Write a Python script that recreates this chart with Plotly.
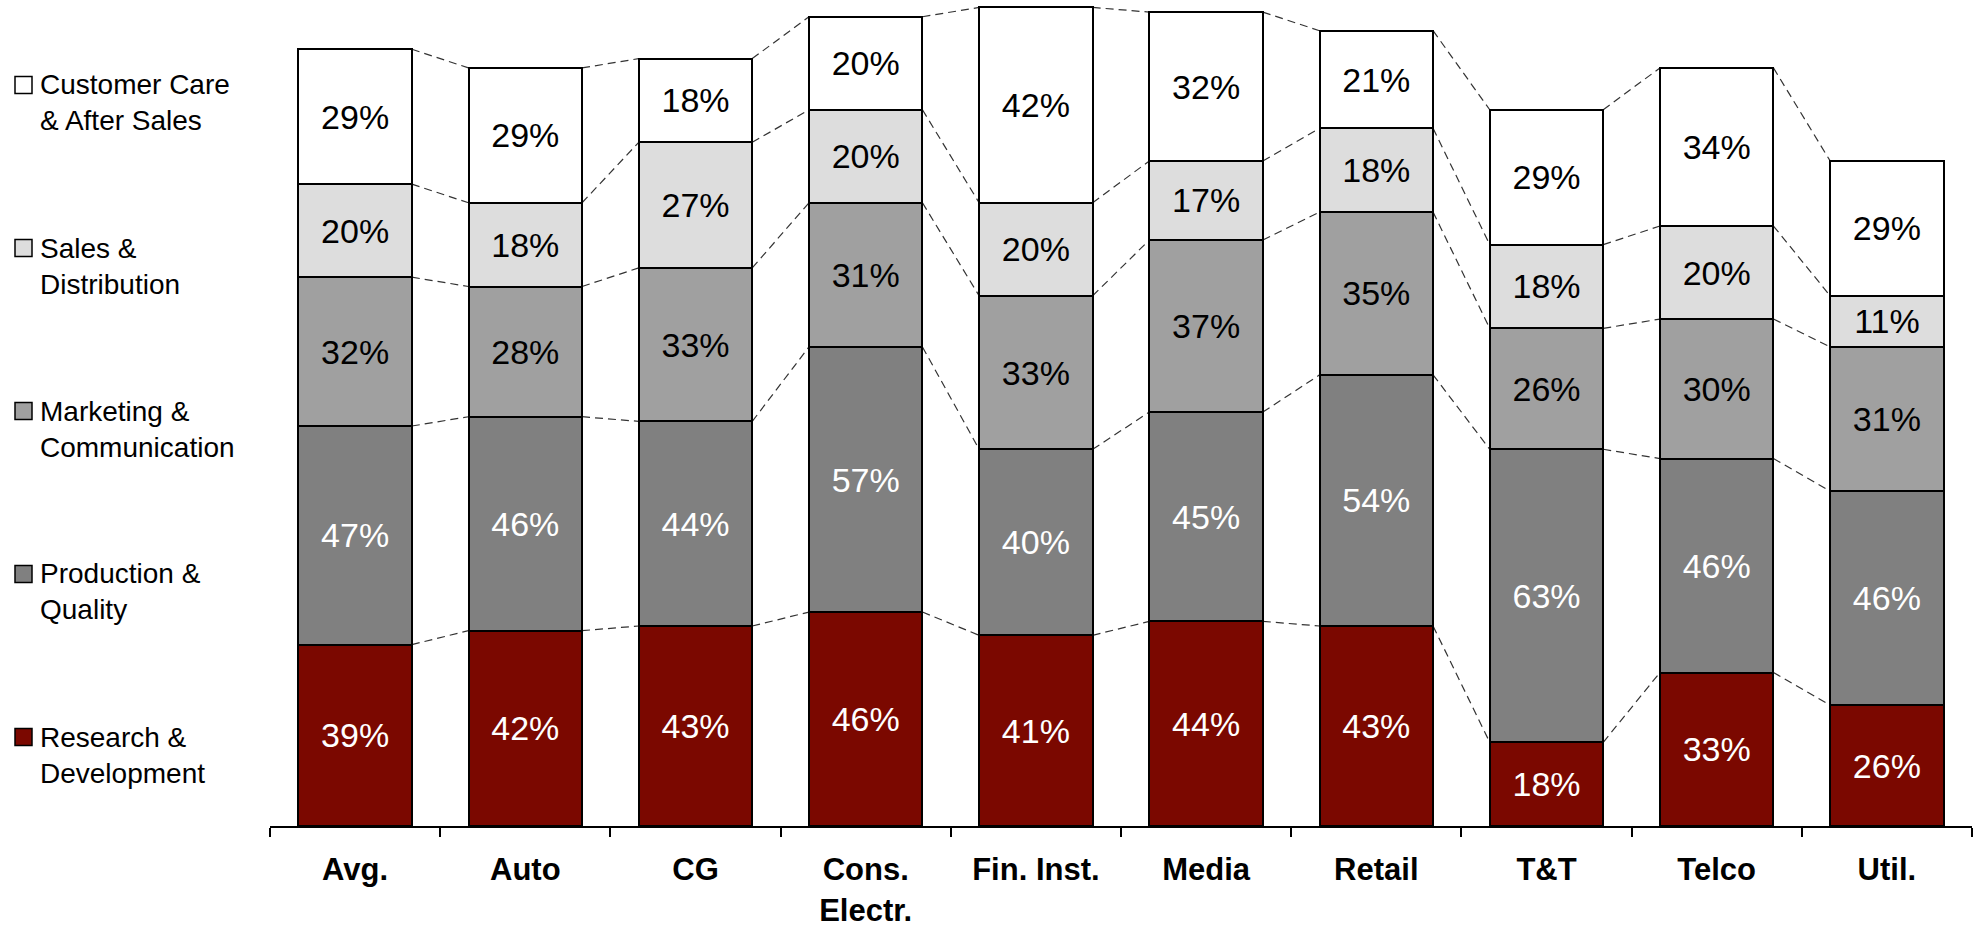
import plotly.graph_objects as go

# Categories and segment shares (%) per category, bottom to top
categories = ["Avg.", "Auto", "CG", "Cons.<br>Electr.", "Fin. Inst.",
              "Media", "Retail", "T&T", "Telco", "Util."]
research_dev = [39, 42, 43, 46, 41, 44, 43, 18, 33, 26]
production_quality = [47, 46, 44, 57, 40, 45, 54, 63, 46, 46]
marketing_comm = [32, 28, 33, 31, 33, 37, 35, 26, 30, 31]
sales_distribution = [20, 18, 27, 20, 20, 17, 18, 18, 20, 11]
customer_care = [29, 29, 18, 20, 42, 32, 21, 29, 34, 29]

series_names = ["Research &<br>Development", "Production &<br>Quality",
                "Marketing &<br>Communication", "Sales &<br>Distribution",
                "Customer Care<br>& After Sales"]
series_values = [research_dev, production_quality, marketing_comm,
                 sales_distribution, customer_care]
fill_colors = ["#7B0800", "#808080", "#A0A0A0", "#DDDDDD", "#FFFFFF"]
text_colors = ["white", "white", "black", "black", "black"]

W, H = 1978, 928
ML, MR, MT, MB = 270, 6, 0, 102
PLOT_W = W - ML - MR
PLOT_H = H - MT - MB
Y_MAX = 177.6
BAR_W = 0.667
FONT = "Liberation Sans, Arial, sans-serif"

fig = go.Figure()
for name, vals, fc, tc in zip(series_names, series_values, fill_colors, text_colors):
    fig.add_trace(go.Bar(
        x=categories, y=vals, name=name, showlegend=False,
        marker=dict(color=fc, line=dict(color="black", width=2)),
        text=[f"{v}%" for v in vals], textposition="inside",
        insidetextanchor="middle", textangle=0,
        textfont=dict(family=FONT, size=34, color=tc),
        cliponaxis=False, hoverinfo="skip",
    ))

# Dashed connectors between neighbouring bars at every segment boundary
shapes = []
cum = [[0] * len(categories)]
for vals in series_values:
    cum.append([c + v for c, v in zip(cum[-1], vals)])
for level in cum[1:]:
    for i in range(len(categories) - 1):
        shapes.append(dict(
            type="line", xref="x", yref="y",
            x0=i + BAR_W / 2, y0=level[i],
            x1=i + 1 - BAR_W / 2, y1=level[i + 1],
            line=dict(color="#333333", width=1.2, dash="8px,5px"), layer="below",
        ))


def px_x(px):
    return (px - ML) / PLOT_W


def px_y(py):
    return (H - MB - py) / PLOT_H


# Legend: boxes and labels on the left, top entry first
annotations = []
legend_top = 85
legend_step = 163
box = 17
for k, idx in enumerate(reversed(range(len(series_names)))):
    cy = legend_top + k * legend_step
    shapes.append(dict(
        type="rect", xref="paper", yref="paper",
        x0=px_x(15), x1=px_x(15 + box), y0=px_y(cy + box / 2), y1=px_y(cy - box / 2),
        fillcolor=fill_colors[idx], line=dict(color="black", width=1.5),
    ))
    annotations.append(dict(
        xref="paper", yref="paper", x=px_x(38), y=px_y(cy + 18),
        xanchor="left", yanchor="middle", align="left", showarrow=False,
        text=series_names[idx], font=dict(family=FONT, size=28, color="black"),
    ))

fig.update_layout(
    width=W, height=H, barmode="stack", bargap=1 - BAR_W,
    margin=dict(l=ML, r=MR, t=MT, b=MB),
    paper_bgcolor="white", plot_bgcolor="white",
    shapes=shapes, annotations=annotations,
    uniformtext=dict(minsize=34, mode="show"),
    xaxis=dict(
        type="category", tickson="boundaries", ticks="outside", ticklen=9,
        tickwidth=2, tickcolor="black", showline=True, linecolor="black",
        linewidth=2, showgrid=False, zeroline=False, ticklabelstandoff=15,
        tickfont=dict(family=FONT, size=31, color="black", weight="bold"),
        range=[-0.5, len(categories) - 0.5],
    ),
    yaxis=dict(visible=False, range=[0, Y_MAX], fixedrange=True),
)

fig.write_html("out.html")
